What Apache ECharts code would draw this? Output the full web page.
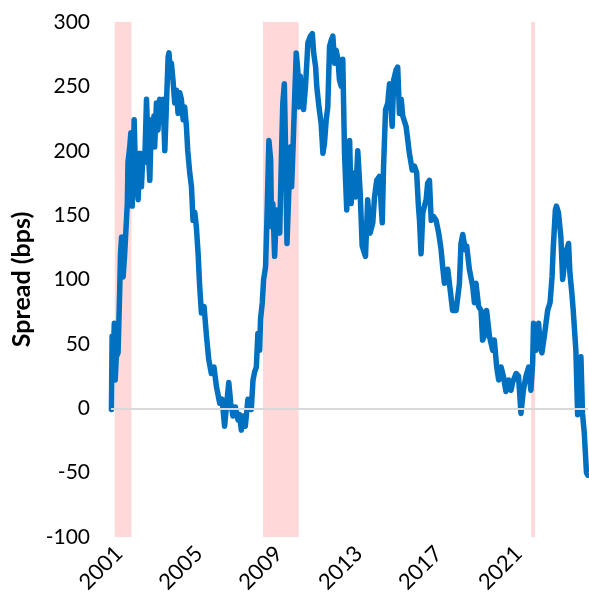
<!DOCTYPE html>
<html>
<head>
<meta charset="utf-8">
<script src="https://cdn.jsdelivr.net/npm/echarts@6/dist/echarts.min.js"></script>
<style>
html,body{margin:0;padding:0;background:#fff;}
#chart{width:589px;height:601px;}
</style>
</head>
<body>
<div id="chart"></div>
<script>
// Dates as decimal years
const years = [
2001.02,2001.05,2001.10,2001.15,2001.19,2001.24,2001.32,2001.40,2001.43,2001.48,
2001.55,2001.62,2001.70,2001.74,2001.77,2001.85,2001.90,2001.96,2002.05,2002.09,
2002.15,2002.23,2002.30,2002.38,2002.45,2002.53,2002.61,2002.68,2002.76,2002.83,
2002.89,2002.95,2002.98,2003.06,2003.13,2003.21,2003.29,2003.36,2003.44,2003.51,
2003.59,2003.63,2003.69,2003.74,2003.81,2003.89,2003.97,2004.04,2004.12,2004.19,
2004.27,2004.34,2004.42,2004.48,2004.57,2004.65,2004.72,2004.80,2004.87,2004.95,
2005.02,2005.10,2005.22,2005.33,2005.43,2005.55,2005.67,2005.78,2005.93,2006.04,
2006.15,2006.25,2006.34,2006.43,2006.53,2006.64,2006.76,2006.83,2006.91,2006.98,
2007.09,2007.21,2007.29,2007.36,2007.44,2007.51,2007.59,2007.66,2007.74,2007.78,
2007.86,2007.92,2008.01,2008.07,2008.16,2008.24,2008.28,2008.34,2008.42,2008.50,
2008.57,2008.65,2008.72,2008.79,2008.86,2008.92,2008.98,2009.07,2009.13,2009.19,
2009.25,2009.32,2009.40,2009.47,2009.52,2009.58,2009.67,2009.73,2009.82,2009.93,
2010.04,2010.13,2010.19,2010.28,2010.33,2010.43,2010.53,2010.61,2010.68,2010.76,
2010.83,2010.91,2010.99,2011.06,2011.14,2011.21,2011.29,2011.36,2011.44,2011.51,
2011.59,2011.69,2011.82,2011.89,2011.96,2012.09,2012.19,2012.30,2012.39,2012.54,
2012.64,2012.75,2012.87,2012.95,2013.05,2013.17,2013.30,2013.36,2013.45,2013.55,
2013.63,2013.75,2013.82,2013.93,2014.00,2014.08,2014.16,2014.23,2014.38,2014.46,
2014.53,2014.61,2014.66,2014.76,2014.86,2014.94,2014.99,2015.06,2015.14,2015.21,
2015.29,2015.36,2015.44,2015.52,2015.62,2015.74,2015.86,2015.97,2016.04,2016.12,
2016.20,2016.27,2016.38,2016.49,2016.65,2016.80,2016.87,2016.95,2017.07,2017.13,
2017.25,2017.40,2017.48,2017.55,2017.67,2017.78,2017.85,2017.98,2018.03,2018.16,
2018.31,2018.38,2018.49,2018.58,2018.69,2018.79,2018.91,2019.03,2019.14,2019.21,
2019.37,2019.48,2019.59,2019.70,2019.82,2019.94,2020.04,2020.12,2020.16,2020.22,
2020.27,2020.33,2020.39,2020.47,2020.54,2020.65,2020.80,2020.91,2021.00,2021.05,
2021.15,2021.20,2021.29,2021.40,2021.48,2021.55,2021.66,2021.75,2021.81,2021.90,
2021.96,2022.08,2022.16,2022.23,2022.31,2022.38,2022.46,2022.56,2022.62
];
// Spread in bps
const spread = [
-1,56,40,66,22,40,43,95,120,133,
102,120,146,159,191,203,214,157,224,198,
185,162,198,172,198,191,240,203,177,224,
205,227,203,237,216,240,224,240,200,234,
273,276,262,268,255,237,247,229,245,240,
224,234,219,200,183,172,146,152,141,120,
95,74,79,56,38,27,32,17,4,7,
-14,4,20,4,-6,1,-9,-5,-17,-6,
-14,7,2,-1,22,28,32,58,45,69,
82,100,110,146,208,193,141,159,118,154,
146,136,190,237,252,198,128,172,203,172,
200,237,276,263,234,258,237,232,250,284,
289,291,276,265,250,234,221,198,206,224,
234,281,286,289,268,278,271,255,250,271,
198,154,208,159,183,164,200,167,126,118,
162,136,144,164,177,180,144,188,232,237,
252,219,255,263,265,229,240,227,219,208,
198,198,185,188,183,157,146,120,152,152,
162,175,177,146,149,146,136,123,110,97,
100,108,92,76,76,97,128,135,123,126,
108,95,82,97,79,76,53,58,76,56,
45,53,32,22,32,25,13,22,14,20,
27,25,-4,14,25,32,14,35,66,50,
45,60,66,48,43,56,76,82,102,123,
154,157,152,133,100,110,123,128,105,89,
76,45,-5,35,40,-4,-19,-50,-52
];
const yTicks = [-100,-50,0,50,100,150,200,250,300];
const xLabelYears = [2001,2005,2009,2013,2017,2021];
const recessionStart = [2001.17, 2007.89, 2020.05];
const recessionEnd   = [2001.93, 2009.51, 2020.23];

const baseYear = 2001;
const dataMax = 21.63;          // axis span in years from baseYear
// label axis (reference spaces its year labels on its own even scale)
const labelMin = 2000.6, labelMax = 2024.48;

const lineData = years.map((t,i)=>[t-baseYear, spread[i]]);
const areas = recessionStart.map((s,i)=>[{xAxis:s-baseYear},{xAxis:recessionEnd[i]-baseYear}]);

const chart = echarts.init(document.getElementById('chart'), null, {renderer:'canvas'});
chart.setOption({
  animation:false,
  textStyle:{fontFamily:'Lato'},
  grid:{left:111,right:1,top:22,bottom:64,containLabel:false},
  xAxis:[{
    type:'value', min:0, max:dataMax,
    axisLine:{show:false}, axisTick:{show:false}, splitLine:{show:false},
    axisLabel:{show:false}
  },{
    type:'value', min:labelMin, max:labelMax, position:'bottom',
    axisLine:{show:false}, axisTick:{show:false}, splitLine:{show:false},
    axisLabel:{
      rotate:45, fontSize:22, color:'#000', fontFamily:'Lato', margin:13,
      customValues:xLabelYears,
      formatter:v=>String(Math.round(v))
    }
  }],
  yAxis:{
    type:'value', min:yTicks[0], max:yTicks[yTicks.length-1], interval:50,
    axisLine:{show:false}, axisTick:{show:false}, splitLine:{show:false},
    axisLabel:{fontSize:21, color:'#000', fontFamily:'Lato', margin:21},
    name:'Spread (bps)', nameLocation:'middle', nameGap:76,
    nameTextStyle:{fontSize:25, fontWeight:'bold', color:'#000', fontFamily:'Lato'}
  },
  series:[
    {type:'line', data:[], xAxisIndex:0, z:1, silent:true,
     markArea:{silent:true, itemStyle:{color:'#FFD9D9'}, data:areas},
     markLine:{silent:true, symbol:['none','none'], label:{show:false},
       lineStyle:{color:'#D9D9D9', width:2, type:'solid'}, data:[{yAxis:0}]}
    },
    {type:'line', data:lineData, xAxisIndex:0, z:3, showSymbol:false, symbol:'none', smooth:false,
     lineStyle:{color:'#0070C0', width:5.5, join:'round', cap:'round'}}
  ]
});
</script>
</body>
</html>
